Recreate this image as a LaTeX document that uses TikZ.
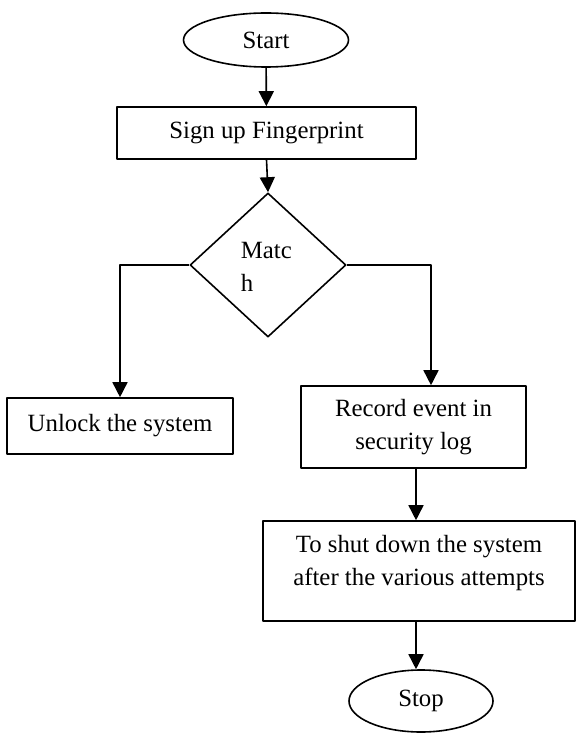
\documentclass[tikz,border=0pt]{standalone}
\usepackage{fontspec}
\setmainfont{Liberation Serif}
\usetikzlibrary{shapes.geometric,arrows.meta}
\begin{document}
\begin{tikzpicture}[x=0.5pt, y=-0.5pt, font=\fontsize{12.4}{16.5}\selectfont, line join=round, line width=0.8pt, >={Triangle[length=7.5pt,width=7.5pt]},
term/.style={draw, ellipse, inner sep=0pt},
proc/.style={draw, rectangle, inner sep=0pt, align=center}]
\useasboundingbox (0,0) rectangle (576,737);
\node[term, minimum width=82.5pt, minimum height=27pt] (start) at (266,40) {Start};
\node[proc, minimum width=149.5pt, minimum height=26pt] (sign) at (266.5,133) {Sign up Fingerprint};
\node[draw, diamond, inner sep=0pt, minimum width=78pt, minimum height=72pt] (match) at (268,265) {};
\node[anchor=north west, inner sep=0pt, align=left] (matchtext) at (240,241.5) {Matc\\h};
\node[proc, minimum width=113pt, minimum height=28pt] (unlock) at (120,426) {Unlock the system};
\node[proc, minimum width=112.5pt, minimum height=41pt] (record) at (413.5,427) {Record event in\\security log};
\node[proc, minimum width=156pt, minimum height=50pt] (shut) at (419,571) {};
\node[align=center, inner sep=0pt] (shuttext) at (419,563) {To shut down the system\\after the various attempts};
\node[term, minimum width=72pt, minimum height=31pt] (stop) at (421,701) {Stop};
\draw[->] (start) -- (sign);
\draw[->] (sign.south) -- (match.north);
\draw[->] (match.west) -| (unlock.north);
\draw[->] (match.east) -| ([xshift=8.75pt]record.north);
\draw[->] ([xshift=1.25pt]record.south) -- ([xshift=1.25pt]record.south |- shut.north);
\draw[->] ([xshift=-2.5pt]stop.north |- shut.south) -- ([xshift=-2.5pt]stop.north);
\end{tikzpicture}
\end{document}
